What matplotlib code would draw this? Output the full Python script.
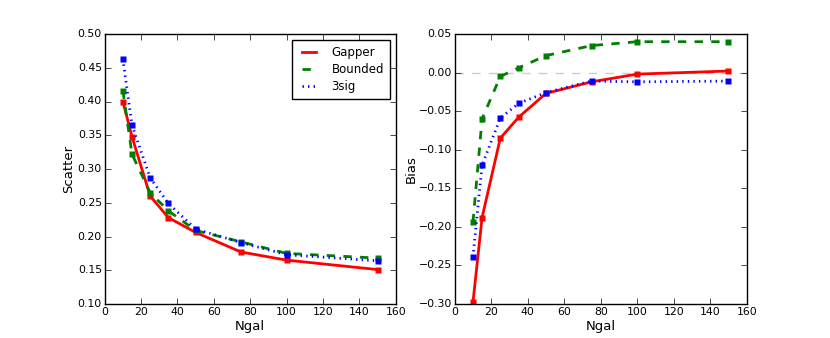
import matplotlib
matplotlib.use("Agg")
import matplotlib.pyplot as plt

plt.style.use("classic")
plt.rcParams["font.family"] = ["DejaVu Sans"]

ngal = [10, 15, 25, 35, 50, 75, 100, 150]

# scatter
scat_gapper = [0.400, 0.348, 0.260, 0.228, 0.206, 0.177, 0.165, 0.151]
scat_bounded = [0.416, 0.322, 0.265, 0.238, 0.209, 0.192, 0.175, 0.168]
scat_3sig = [0.463, 0.365, 0.287, 0.249, 0.211, 0.191, 0.173, 0.164]

# bias
bias_gapper = [-0.298, -0.188, -0.085, -0.058, -0.027, -0.012, -0.002, 0.002]
bias_bounded = [-0.194, -0.060, -0.005, 0.006, 0.022, 0.035, 0.040, 0.040]
bias_3sig = [-0.239, -0.120, -0.059, -0.040, -0.026, -0.011, -0.012, -0.011]

fig = plt.figure(figsize=(8.3, 3.38), dpi=100, facecolor="white")
ax1 = fig.add_axes([104.7 / 830, 1 - 304 / 338, 291 / 830, 270 / 338])
ax2 = fig.add_axes([454.7 / 830, 1 - 304 / 338, 292 / 830, 270 / 338])

kw = dict(lw=2, marker="s", ms=5, mec="none")
ax1.plot(ngal, scat_gapper, "r-", label="Gapper", **kw)
ax1.plot(ngal, scat_bounded, "g--", label="Bounded", **kw)
ax1.plot(ngal, scat_3sig, "b:", label="3sig", **kw)
ax1.set_xlim(0, 160)
ax1.set_ylim(0.10, 0.50)
ax1.set_xlabel("Ngal", fontsize=9.5, labelpad=2)
ax1.set_ylabel("Scatter", fontsize=9.5)
ax1.yaxis.set_label_coords(-0.102, 0.5)
leg = ax1.legend(loc="upper right", fontsize=8.5, handlelength=1.8,
                 handletextpad=1.0, labelspacing=0.35, borderpad=0.5)
for h in leg.get_lines():
    h.set_marker("None")

ax2.axhline(0, color="0.8", ls="--", lw=1)
ax2.plot(ngal, bias_gapper, "r-", **kw)
ax2.plot(ngal, bias_bounded, "g--", **kw)
ax2.plot(ngal, bias_3sig, "b:", **kw)
ax2.set_xlim(0, 160)
ax2.set_ylim(-0.30, 0.05)
ax2.set_xlabel("Ngal", fontsize=9.5, labelpad=2)
ax2.set_ylabel("Bias", fontsize=9.5)
ax2.yaxis.set_label_coords(-0.128, 0.5)

for ax in (ax1, ax2):
    ax.tick_params(labelsize=7.8, pad=2)
    for s in ax.spines.values():
        s.set_linewidth(1)

fig.savefig("out.png", dpi=100, facecolor="white")
